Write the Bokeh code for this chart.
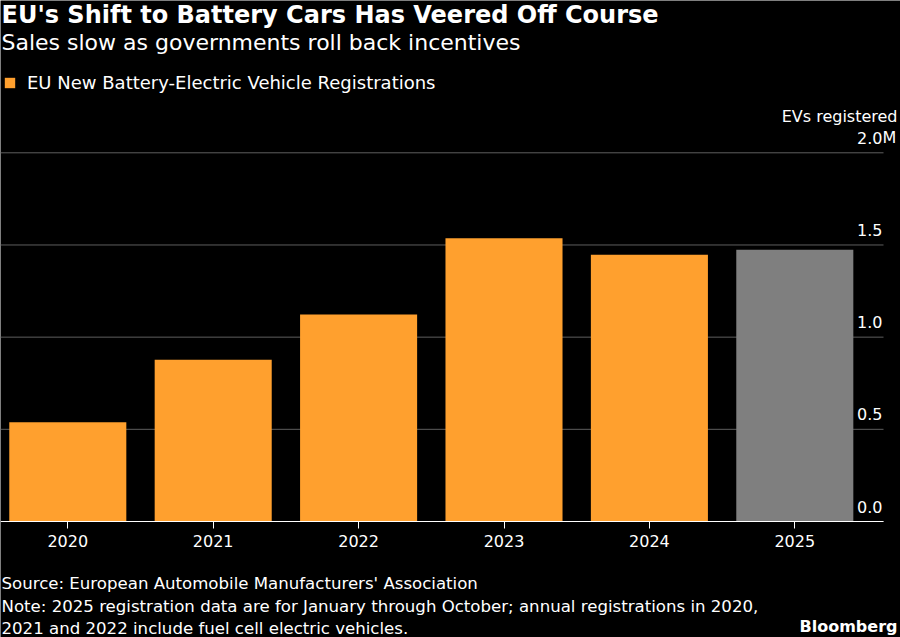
from bokeh.plotting import figure
from bokeh.models import ColumnDataSource, FixedTicker, Label, Legend, LegendItem, Range1d
from bokeh.embed import file_html
from bokeh.resources import INLINE
from bokeh.core.properties import value

# ---------------- data ----------------
title_text = "EU's Shift to Battery Cars Has Veered Off Course"
subtitle_text = "Sales slow as governments roll back incentives"
series_name = "EU New Battery-Electric Vehicle Registrations"
years = ["2020", "2021", "2022", "2023", "2024", "2025"]
registrations_m = [0.539, 0.877, 1.123, 1.537, 1.447, 1.474]
partial_year = "2025"
y_ticks = [0.0, 0.5, 1.0, 1.5, 2.0]
y_tick_labels = ["0.0", "0.5", "1.0", "1.5", "2.0"]
y_unit_suffix = "M"
y_axis_title = "EVs registered"
source_line = "Source: European Automobile Manufacturers' Association"
note_lines = [
    "Note: 2025 registration data are for January through October; annual registrations in 2020,",
    "2021 and 2022 include fuel cell electric vehicles.",
]
brand = "Bloomberg"

# ---------------- style ----------------
ORANGE = "#ffa02e"
GREY = "#7f7f7f"
BG = "#000000"
WHITE = "#ffffff"
GRID = "#5e5e5e"
FONT = "DejaVu Sans"

W, H = 900, 637

# x scale: category spacing 145.4 px, first centre 67.3 px from the left
spacing = 145.4
x0 = -67.3 / spacing
x1 = x0 + W / spacing
x_plot_end = (883 - 67.3) / spacing   # where gridlines / axis end
# y scale: 184.35 px per million, zero line 521 px from the top
ppu = 184.35
y0 = -(H - 521) / ppu
y1 = 521 / ppu

idx = list(range(len(years)))
colors = [GREY if yr == partial_year else ORANGE for yr in years]
src = ColumnDataSource(dict(x=idx, top=registrations_m, color=colors, year=years))

p = figure(width=W, height=H, output_backend="svg", toolbar_location=None,
           x_range=Range1d(x0, x1), y_range=Range1d(y0, y1),
           y_axis_location=None,
           min_border_left=0, min_border_top=0,
           min_border_right=0, min_border_bottom=0)
p.background_fill_color = BG
p.border_fill_color = BG
p.outline_line_color = None
p.xgrid.visible = False
p.ygrid.visible = False

# horizontal gridlines at the y ticks
p.segment(x0=[x0] * len(y_ticks), x1=[x_plot_end] * len(y_ticks), y0=y_ticks, y1=y_ticks,
          line_color=GRID, line_width=1)

bars = p.vbar(x="x", top="top", width=0.805, bottom=0, source=src,
              fill_color="color", line_color=None)

# x axis sitting on the zero line
ax = p.xaxis[0]
ax.fixed_location = 0
ax.bounds = (x0, x_plot_end)
ax.ticker = FixedTicker(ticks=idx)
ax.major_label_overrides = {i: yr for i, yr in zip(idx, years)}
ax.axis_line_color = WHITE
ax.axis_line_width = 1.2
ax.major_tick_line_color = WHITE
ax.major_tick_out = 7
ax.major_tick_in = 0
ax.minor_tick_line_color = None
ax.major_label_text_color = WHITE
ax.major_label_text_font = FONT
ax.major_label_text_font_size = "16px"
ax.major_label_standoff = 6

# y tick labels drawn above their gridlines
tick_src = ColumnDataSource(dict(y=y_ticks, text=y_tick_labels, x=[x_plot_end] * len(y_ticks)))
p.text(x="x", y="y", text="text", source=tick_src, x_offset=-1, y_offset=-15,
       text_align="right", text_baseline="middle", text_color=WHITE,
       text_font=value(FONT), text_font_size="16px")
p.text(x=[x_plot_end], y=[y_ticks[-1]], text=[y_unit_suffix], x_offset=-1, y_offset=-15,
       text_align="left", text_baseline="middle", text_color=WHITE,
       text_font=value(FONT), text_font_size="16px")

def screen_label(x, y_from_top, text, size, align="left", bold=False):
    p.add_layout(Label(x=x, x_units="screen", y=H - y_from_top, y_units="screen",
                       text=text, text_align=align, text_baseline="middle",
                       text_color=WHITE, text_font=FONT,
                       text_font_style="bold" if bold else "normal",
                       text_font_size=size))

screen_label(897, 116, y_axis_title, "16px", align="right")
screen_label(1, 14, title_text, "24px", bold=True)
screen_label(1, 41.5, subtitle_text, "22px")

# legend
legend = Legend(items=[LegendItem(label=series_name, renderers=[bars], index=0)],
                location=(3, H - 92.5), orientation="horizontal",
                background_fill_alpha=0, border_line_alpha=0, padding=0, margin=0,
                glyph_width=13, glyph_height=13, label_standoff=11,
                label_text_color=WHITE, label_text_font=FONT,
                label_text_font_size="18px")
p.add_layout(legend, "center")

# footer
for yy, line in zip([583, 605.5, 628], [source_line] + note_lines):
    screen_label(1, yy, line, "16.6px")
screen_label(897, 626, brand, "16px", align="right", bold=True)

open("out.html", "w").write(file_html(p, INLINE))
